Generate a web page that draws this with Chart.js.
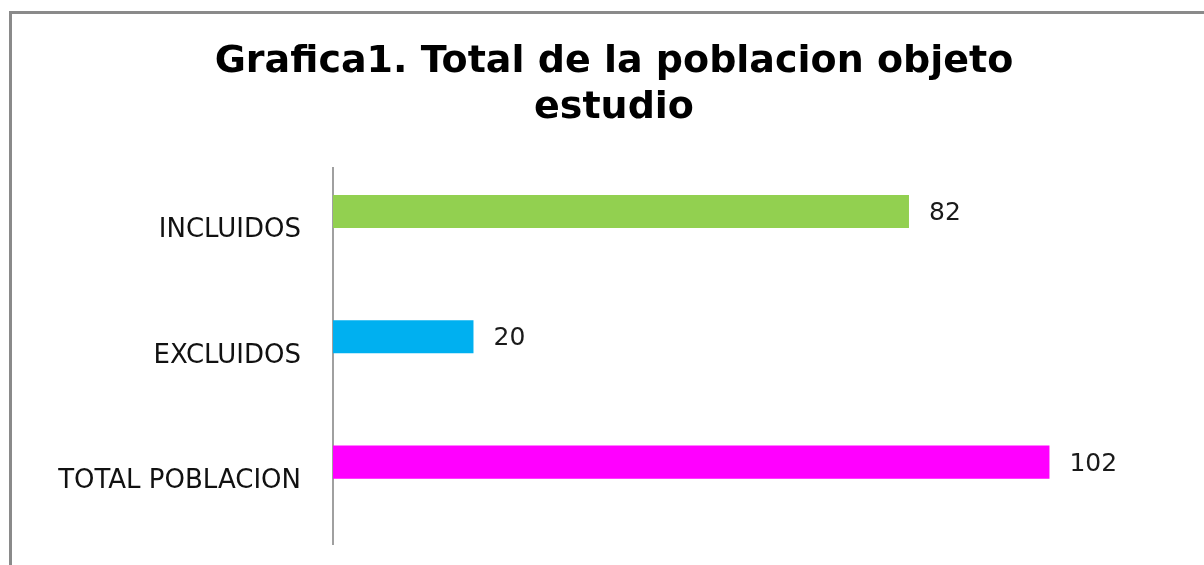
<!DOCTYPE html>
<html>
<head>
<meta charset="utf-8">
<script src="https://cdn.jsdelivr.net/npm/chart.js@4"></script>
<style>
  html, body { margin: 0; padding: 0; background: #fff; overflow: hidden; }
  #wrap { position: relative; width: 1204px; height: 565px; }
  #frame {
    position: absolute; left: 9px; top: 11px; right: -20px; bottom: -20px;
    border-top: 3px solid #8a8a8a; border-left: 3px solid #8a8a8a;
    pointer-events: none;
  }
</style>
</head>
<body>
<div id="wrap">
  <canvas id="chart" width="1204" height="565"></canvas>
  <div id="frame"></div>
</div>
<script>
    // Data
    const categories = ['INCLUIDOS', 'EXCLUIDOS', 'TOTAL POBLACION'];
    const values = [82, 20, 102];
    const barColors = ['#92D050', '#00B0F0', '#FF00FF'];
    const emptySeries = [null, null, null];

    // Draw value labels to the right of each bar
    const valueLabels = {
    id: 'valueLabels',
    afterDatasetsDraw(chart) {
    const ctx = chart.ctx;
    const meta = chart.getDatasetMeta(0);
    ctx.save();
    ctx.font = '25px "DejaVu Sans"';
    ctx.fillStyle = '#1a1a1a';
    ctx.textAlign = 'left';
    ctx.textBaseline = 'middle';
    meta.data.forEach((bar, i) => {
    ctx.fillText(values[i], bar.x + 20, bar.y + 2);
});
    ctx.restore();
}
};

    const ctx = document.getElementById('chart').getContext('2d');
    new Chart(ctx, {
    type: 'bar',
    data: {
    labels: categories,
    datasets: [{
    data: values,
    backgroundColor: barColors,
    borderWidth: 0,
    categoryPercentage: 0.613,
    barPercentage: 0.86
}, {
    data: emptySeries,
    categoryPercentage: 0.613,
    barPercentage: 0.86
}]
},
    options: {
    indexAxis: 'y',
    responsive: false,
    animation: false,
    layout: {
    padding: { left: 24, right: 0, top: 0, bottom: 21 }
},
    plugins: {
    legend: { display: false },
    tooltip: { enabled: false },
    title: {
    display: true,
    text: ['Grafica1. Total de la poblacion objeto', 'estudio'],
    color: '#000',
    font: { family: '"DejaVu Sans"', size: 38, weight: 'bold', lineHeight: 1.21 },
    padding: { top: 39, bottom: 37 }
}
},
    scales: {
    x: {
    display: false,
    min: 0,
    max: 124
},
    y: {
    afterFit: (scale) => {
    scale.width = 309;
    // keep the tick padding from shrinking the plot area
    scale.paddingTop = 0;
    scale.paddingBottom = 0;
},
    grid: { display: false, drawTicks: false },
    border: { display: true, color: '#a0a0a0', width: 2 },
    ticks: {
    color: '#111',
    padding: 32,
    font: { family: '"DejaVu Sans"', size: 26 }
}
}
}
},
    plugins: [valueLabels]
});
</script>
</body>
</html>
